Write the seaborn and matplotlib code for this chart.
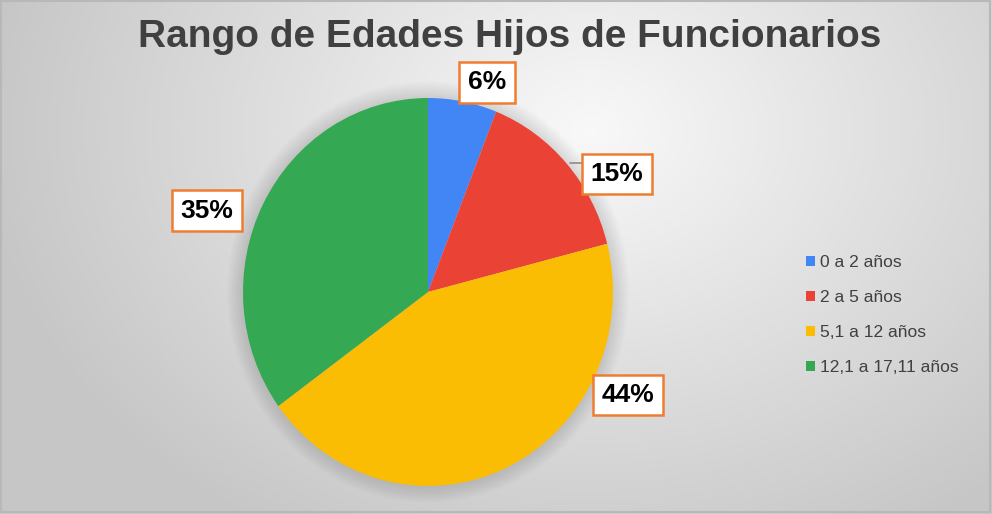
import numpy as np
import matplotlib
matplotlib.use("Agg")
import matplotlib.pyplot as plt
from matplotlib.patches import Ellipse, Rectangle
import seaborn as sns

# data
categories = ["0 a 2 años", "2 a 5 años", "5,1 a 12 años", "12,1 a 17,11 años"]
shares = [6, 15, 44, 35]
slice_colors = ["#4285F4", "#EA4335", "#FBBC04", "#34A853"]
title = "Rango de Edades Hijos de Funcionarios"

# where each percentage box sits (data coords of the pie axes)
label_pos = [(0.319, 1.082), (1.022, 0.608), (1.081, -0.531), (-1.195, 0.418)]

sns.set_theme(style="white")
plt.rcParams['font.family'] = ['Liberation Sans', 'DejaVu Sans']

W, H = 992, 514
fig = plt.figure(figsize=(W / 100, H / 100), dpi=100)

# background gradient
bg = fig.add_axes([0, 0, 1, 1], zorder=0)
yy, xx = np.mgrid[0:H, 0:W]
d = np.sqrt(((xx - 590) / 650.0) ** 2 + ((yy - 130) / 500.0) ** 2)
shade = np.clip(0.975 - 0.21 * d, 0.78, 0.975)
bg.imshow(np.dstack([shade] * 3), extent=(0, W, H, 0), aspect='auto')
bg.add_patch(Rectangle((1, 1), W - 3, H - 3, fill=False, edgecolor="#b8b8b8", lw=1.5))
bg.set_xlim(0, W)
bg.set_ylim(H, 0)
bg.axis('off')

# pie axes covering the whole figure, centre at (428, 292) px
cx, cy, rx, ry = 428, 292, 185, 194
ax = fig.add_axes([0, 0, 1, 1], zorder=1)
ax.patch.set_alpha(0)

# soft glow around the pie
for k in range(7):
    s = 1.0 + 0.012 * (k + 1)
    ax.add_patch(Ellipse((0, 0), 2 * s, 2 * s, facecolor="#000000",
                         alpha=0.016, edgecolor='none', zorder=0))

wedges, texts, autotexts = ax.pie(
    shares, colors=slice_colors, startangle=90, counterclock=False,
    autopct='%1.0f%%', wedgeprops=dict(linewidth=0),
    textprops=dict(fontsize=19, fontweight='bold', color='black'))

ax.set_aspect('auto')
ax.set_xlim(-cx / rx, (W - cx) / rx)
ax.set_ylim(-(H - cy) / ry, cy / ry)
ax.axis('off')

for t, p in zip(autotexts, label_pos):
    t.set_position(p)
    t.set_ha('center')
    t.set_va('center')
    t.set_bbox(dict(boxstyle='square,pad=0.32', facecolor='white',
                    edgecolor='#ED7D31', linewidth=1.8))

# leader line for the 15% label
ax.plot([0.768, 0.86], [0.665, 0.665], color="#8c8c8c", lw=1.2, zorder=0.5)

fig.text(510 / W, 1 - 37 / H, title, ha='center', va='center', fontsize=28,
         fontweight='bold', color='#404040')

leg = ax.legend(wedges, categories, loc='center left',
                bbox_to_anchor=(790 / W, 1 - 315 / H), bbox_transform=fig.transFigure,
                frameon=False, fontsize=12.5, labelspacing=1.15,
                handlelength=0.55, handleheight=0.55, handletextpad=0.3)
for t in leg.get_texts():
    t.set_color('#404040')

fig.savefig("out.png", dpi=100)
